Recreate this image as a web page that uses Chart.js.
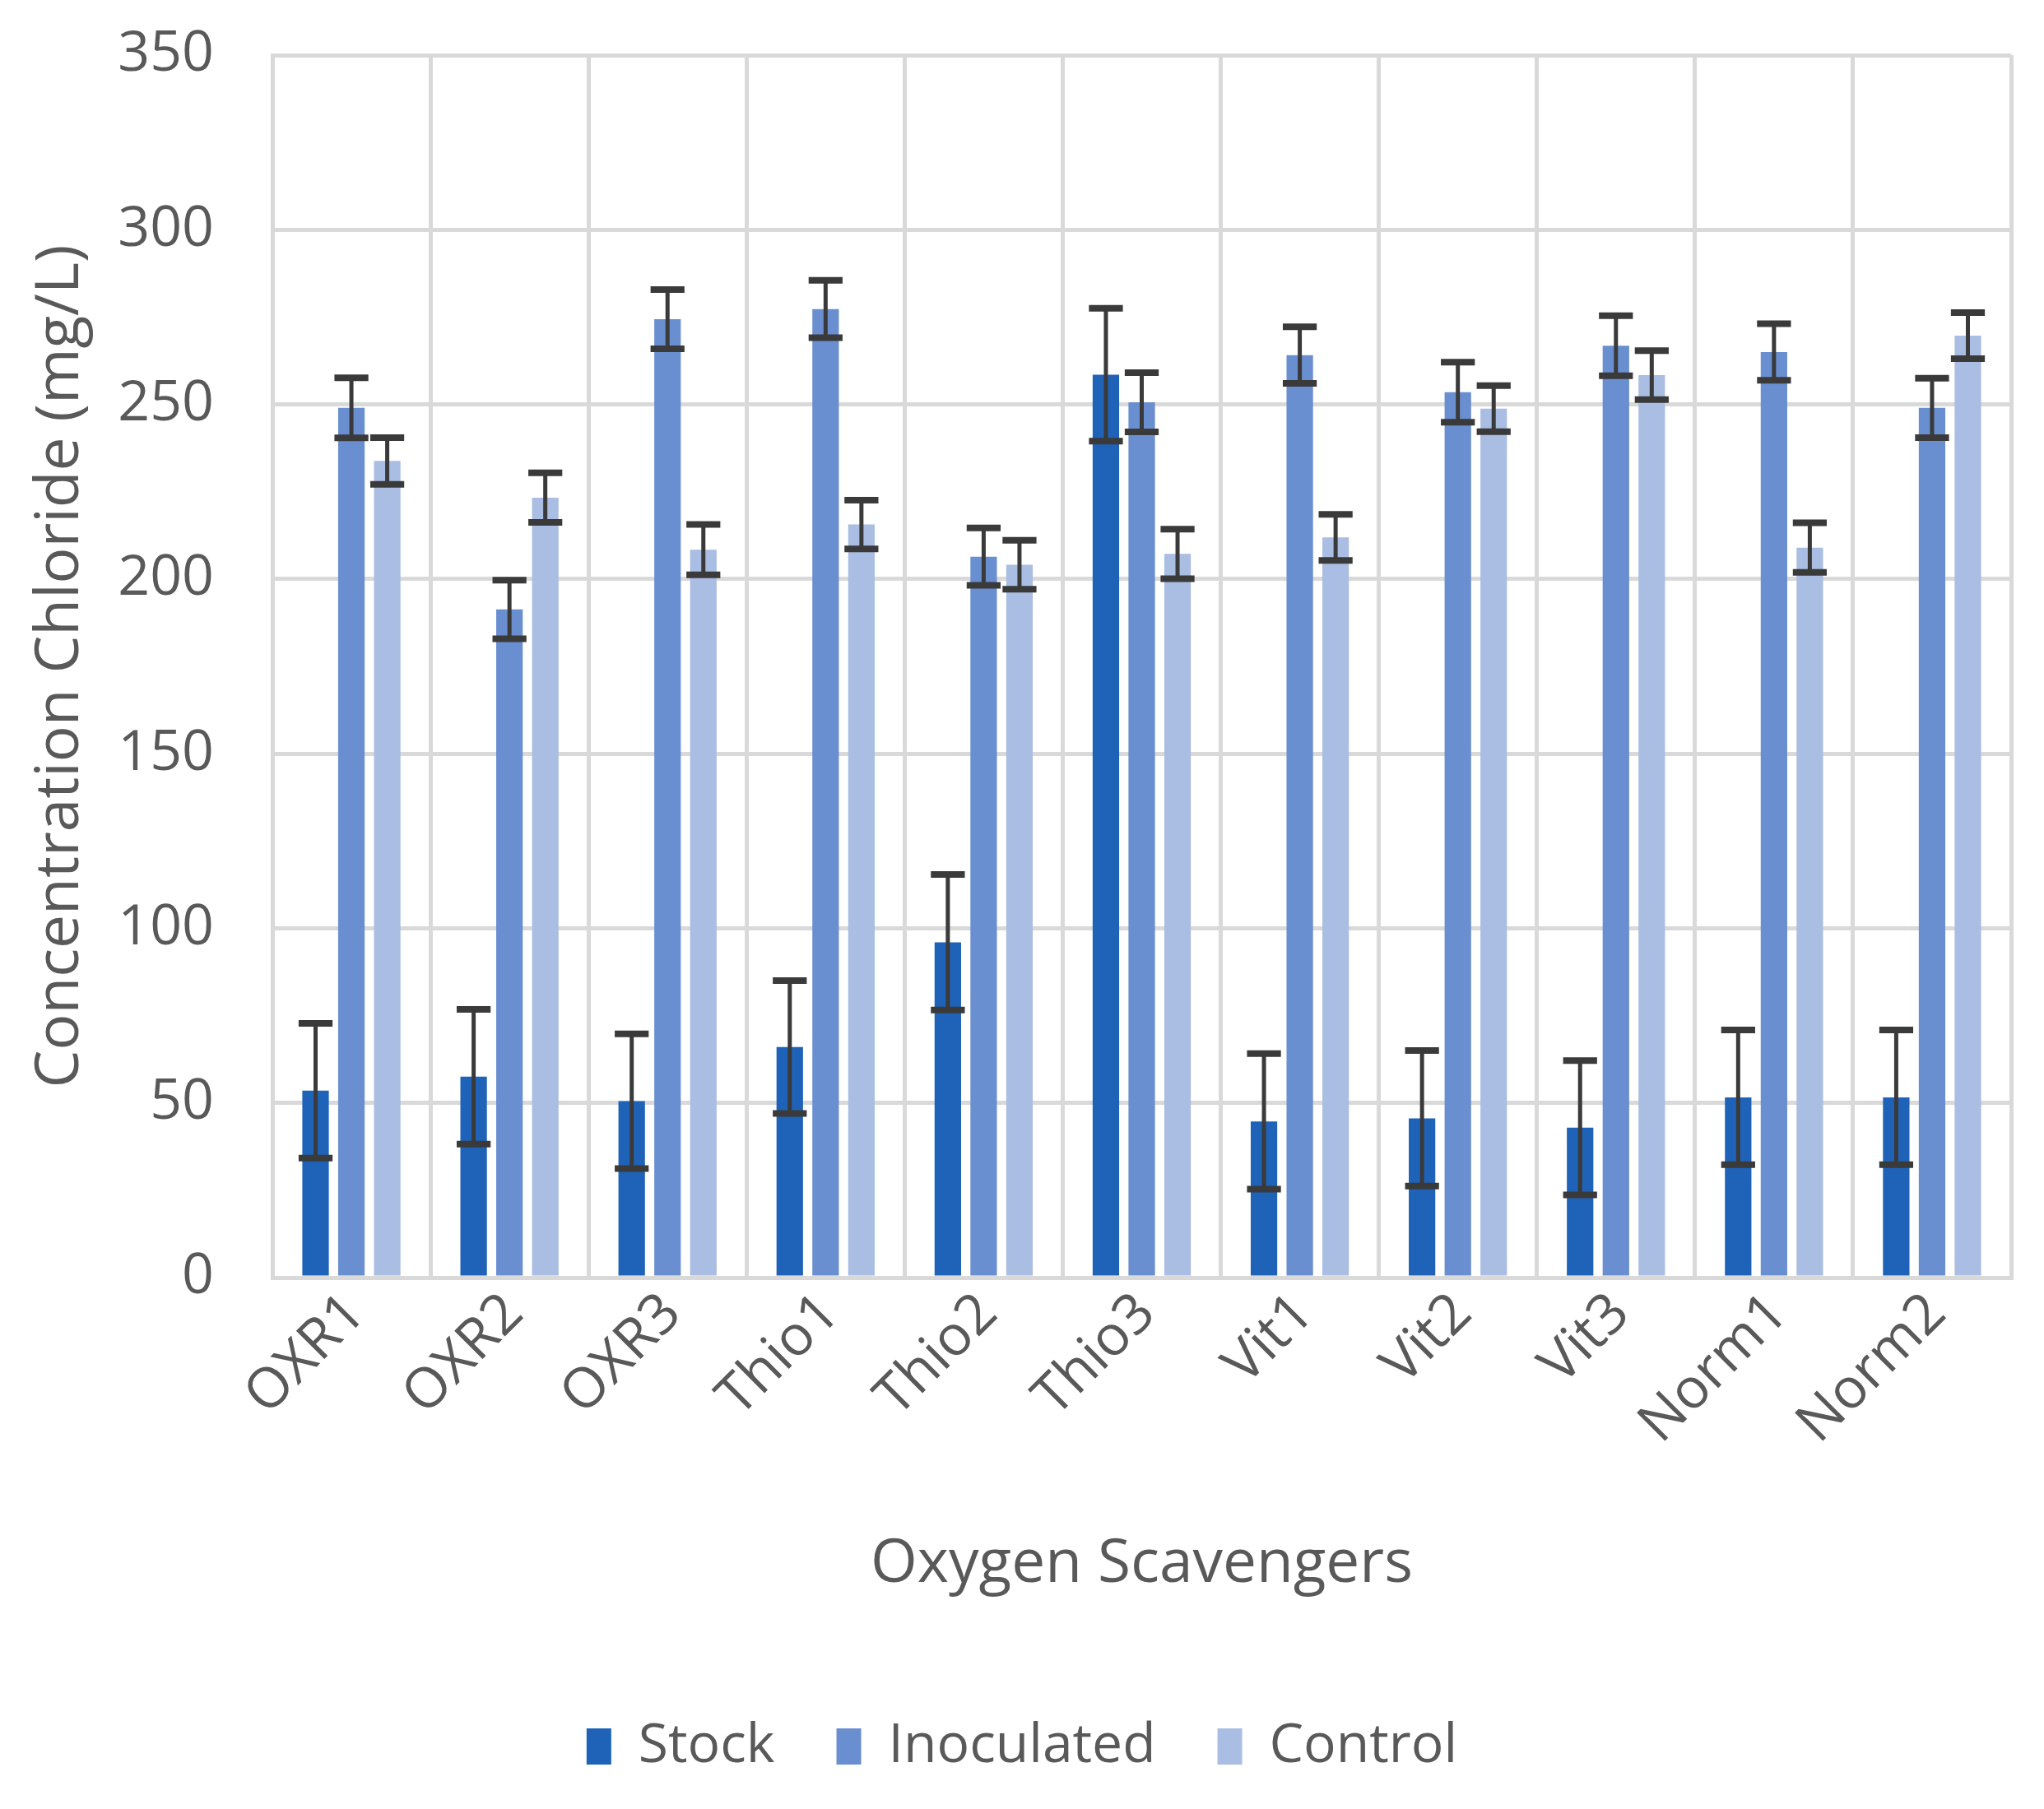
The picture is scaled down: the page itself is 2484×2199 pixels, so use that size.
<!DOCTYPE html>
<html>
<head>
<meta charset="utf-8">
<script src="https://cdn.jsdelivr.net/npm/chart.js@4.4.1/dist/chart.umd.min.js"></script>
<style>
  html, body { margin: 0; padding: 0; background: #ffffff; }
  #c { display: block; }
</style>
</head>
<body>
<canvas id="c" width="2484" height="2199" style="width:2484px;height:2199px"></canvas>
<script>
const categories = ['OXR1', 'OXR2', 'OXR3', 'Thio1', 'Thio2', 'Thio3', 'Vit1', 'Vit2', 'Vit3', 'Norm1', 'Norm2'];
const stock      = [53.5, 57.5, 50.5, 66.0, 96.0, 258.5, 44.7, 45.6, 42.9, 51.6, 51.6];
const inoculated = [249.0, 191.3, 274.4, 277.3, 206.4, 250.6, 264.1, 253.5, 266.8, 265.0, 249.0];
const control    = [233.8, 223.3, 208.4, 215.6, 204.1, 207.2, 211.9, 248.8, 258.4, 209.0, 269.7];
const stockErr      = [19.3, 19.3, 19.3, 19.0, 19.4, 19.0, 19.4, 19.4, 19.2, 19.3, 19.3];
const inoculatedErr = [8.6, 8.4, 8.5, 8.2, 8.2, 8.5, 8.1, 8.6, 8.6, 8.1, 8.5];
const controlErr    = [6.7, 7.1, 7.2, 7.0, 7.0, 7.1, 6.6, 6.6, 7.0, 7.1, 6.6];
const yTicks = [0, 50, 100, 150, 200, 250, 300, 350];

const FONT = "'Open Sans', 'Noto Sans', 'DejaVu Sans', sans-serif";
const TEXT = '#595959';
const GRID = '#d9d9d9';

const errorBars = {
  id: 'errorBars',
  afterDatasetsDraw(chart) {
    const ctx = chart.ctx;
    const y = chart.scales.y;
    ctx.save();
    ctx.strokeStyle = '#3a3a3a';
    chart.data.datasets.forEach((ds, di) => {
      const meta = chart.getDatasetMeta(di);
      if (meta.hidden) return;
      meta.data.forEach((bar, i) => {
        const v = ds.data[i], e = ds.errors[i];
        const yt = y.getPixelForValue(v + e);
        const yb = y.getPixelForValue(v - e);
        const half = bar.width * 0.64;
        ctx.lineWidth = 5;
        ctx.beginPath();
        ctx.moveTo(bar.x, yt);
        ctx.lineTo(bar.x, yb);
        ctx.stroke();
        ctx.lineWidth = 8;
        ctx.beginPath();
        ctx.moveTo(bar.x - half, yt);
        ctx.lineTo(bar.x + half, yt);
        ctx.moveTo(bar.x - half, yb);
        ctx.lineTo(bar.x + half, yb);
        ctx.stroke();
      });
    });
    ctx.restore();
  }
};

new Chart(document.getElementById('c'), {
  type: 'bar',
  data: {
    labels: categories,
    datasets: [
      { label: 'Stock', data: stock, errors: stockErr, backgroundColor: '#1f63b9' },
      { label: 'Inoculated', data: inoculated, errors: inoculatedErr, backgroundColor: '#6a8fd0' },
      { label: 'Control', data: control, errors: controlErr, backgroundColor: '#aabde2' }
    ]
  },
  options: {
    responsive: false,
    animation: false,
    devicePixelRatio: 1,
    categoryPercentage: 0.68,
    barPercentage: 0.74,
    layout: { padding: { top: 67, right: 40, bottom: 33, left: 40 } },
    plugins: {
      tooltip: { enabled: false },
      legend: {
        position: 'bottom',
        labels: {
          font: { family: FONT, size: 66 },
          color: TEXT,
          boxWidth: 30,
          boxHeight: 44,
          padding: 75
        }
      }
    },
    scales: {
      x: {
        grid: { color: GRID, lineWidth: 5, drawTicks: false, offset: true },
        border: { color: GRID, width: 5 },
        ticks: {
          font: { family: FONT, size: 68 },
          color: TEXT,
          maxRotation: 45,
          minRotation: 45,
          padding: 4,
          labelOffset: 6,
          autoSkip: false
        },
        title: {
          display: true,
          text: 'Oxygen Scavengers',
          font: { family: FONT, size: 73 },
          color: TEXT,
          padding: { top: 0, bottom: 69 }
        },
        afterFit(scale) { scale.height = 462; }
      },
      y: {
        min: 0,
        max: 350,
        grid: { color: GRID, lineWidth: 5, drawTicks: false },
        border: { color: GRID, width: 5 },
        afterBuildTicks(scale) { scale.ticks = yTicks.map(v => ({ value: v })); },
        ticks: {
          font: { family: FONT, size: 68 },
          color: TEXT,
          padding: 71
        },
        title: {
          display: true,
          text: 'Concentration Chloride (mg/L)',
          font: { family: FONT, size: 73, lineHeight: 0.95 },
          color: TEXT,
          padding: { top: 0, bottom: 0 }
        },
        afterFit(scale) {
          scale.width = 291;
          scale.paddingTop = 0;
          scale.paddingBottom = 0;
        }
      }
    }
  },
  plugins: [errorBars]
});
</script>
</body>
</html>
